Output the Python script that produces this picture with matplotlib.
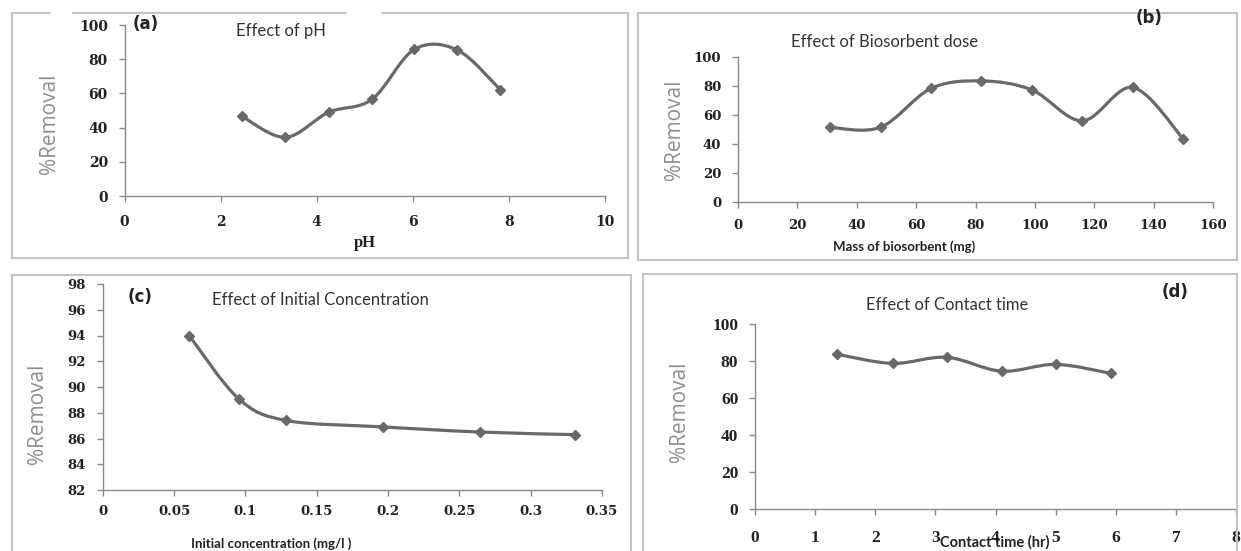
import matplotlib
matplotlib.use("Agg")
import matplotlib.pyplot as plt
from matplotlib.path import Path
from matplotlib.patches import PathPatch
import numpy as np

W, H = 1241, 551

# (a) effect of pH
ph = [2.45, 3.35, 4.25, 5.15, 6.03, 6.93, 7.82]
ph_removal = [46.5, 34.3, 49.0, 56.5, 85.7, 85.3, 62.2]

# (b) biosorbent dose
dose = [31, 48, 65, 82, 99, 116, 133, 150]
dose_removal = [51.5, 51.5, 78.3, 83.5, 77.3, 56.0, 79.0, 43.5]

# (c) initial concentration
conc = [0.0606, 0.0952, 0.1286, 0.1965, 0.2647, 0.3313]
conc_removal = [94.0, 89.1, 87.4, 86.9, 86.5, 86.3]

# (d) contact time
time_hr = [1.37, 2.29, 3.19, 4.10, 5.00, 5.92]
time_removal = [83.6, 78.7, 82.0, 74.5, 78.2, 73.3]

LINE = "#696969"
SPINE = "#8a8a8a"
FRAME = "#c4c4c4"


def px_axes(fig, x0, x1, ytop, ybot):
    return fig.add_axes([x0 / W, 1 - ybot / H, (x1 - x0) / W, (ybot - ytop) / H])


def smooth_line(ax, x, y):
    # Excel style smoothed line: Catmull-Rom segments drawn as cubic beziers
    p = np.column_stack([x, y]).astype(float)
    verts = [p[0]]
    codes = [Path.MOVETO]
    n = len(p)
    for i in range(n - 1):
        p0 = p[i - 1] if i > 0 else p[i]
        p3 = p[i + 2] if i + 2 < n else p[i + 1]
        c1 = p[i] + (p[i + 1] - p0) / 6
        c2 = p[i + 1] - (p3 - p[i]) / 6
        verts += [c1, c2, p[i + 1]]
        codes += [Path.CURVE4] * 3
    ax.add_patch(PathPatch(Path(verts, codes), fill=False, ec=LINE, lw=2.3,
                           capstyle="round", zorder=2))
    ax.plot(x, y, ls="none", marker="D", ms=5.5, color=LINE, zorder=3)


def style(ax, tickfont, tsize, xpad, ypad):
    for s in ["top", "right"]:
        ax.spines[s].set_visible(False)
    for s in ["left", "bottom"]:
        ax.spines[s].set_color(SPINE)
        ax.spines[s].set_linewidth(1.0)
    ax.tick_params(axis="both", direction="out", length=4, width=1, color=SPINE)
    ax.tick_params(axis="x", pad=xpad)
    ax.tick_params(axis="y", pad=ypad)
    for lab in ax.get_xticklabels() + ax.get_yticklabels():
        lab.set_fontfamily(tickfont)
        lab.set_fontweight("bold")
        lab.set_fontsize(tsize)
        lab.set_color("#222222")
    ax.set_facecolor("none")


def removal_label(fig, x, y):
    fig.text(x / W, 1 - y / H, "%Removal", rotation=90, ha="center", va="center",
             fontsize=15, color="#8f8f8f", family="Open Sans")


def title(fig, x, y, s):
    fig.text(x / W, 1 - y / H, s, ha="center", va="center",
             fontsize=12, family="Lato", color="#333333")


def tag(fig, x, y, s):
    fig.text(x / W, 1 - y / H, s, ha="center", va="center",
             fontsize=12, fontweight="bold", color="#222222")


def xlab(fig, x, y, s, size, family="Lato"):
    fig.text(x / W, 1 - y / H, s, ha="center", va="center",
             fontsize=size, fontweight="bold", family=family, color="#222222")


fig = plt.figure(figsize=(W / 100, H / 100), dpi=100)


# panel frames
def frame(x0, x1, y0, y1, gaps=()):
    kw = dict(color=FRAME, lw=1.5, transform=fig.transFigure)
    fx = lambda v: v / W
    fy = lambda v: 1 - v / H
    fig.lines.append(plt.Line2D([fx(x0), fx(x0)], [fy(y0), fy(y1)], **kw))
    fig.lines.append(plt.Line2D([fx(x1), fx(x1)], [fy(y0), fy(y1)], **kw))
    if y1 < H:
        fig.lines.append(plt.Line2D([fx(x0), fx(x1)], [fy(y1), fy(y1)], **kw))
    xs = [x0]
    for g0, g1 in gaps:
        xs += [g0, g1]
    xs.append(x1)
    for a, b in zip(xs[::2], xs[1::2]):
        fig.lines.append(plt.Line2D([fx(a), fx(b)], [fy(y0), fy(y0)], **kw))


frame(12, 628, 13, 258, gaps=[(50, 73), (346, 382)])
frame(638, 1237, 13, 260)
frame(12, 631, 275, 560)
frame(643, 1237, 274, 560)

# (a)
ax = px_axes(fig, 124.5, 605, 25, 196)
smooth_line(ax, ph, ph_removal)
ax.set_xlim(0, 10)
ax.set_ylim(0, 100)
ax.set_xticks(range(0, 11, 2))
ax.set_yticks(range(0, 101, 20))
style(ax, "DejaVu Serif", 10, 10, 8)
title(fig, 281, 31, "Effect of pH")
tag(fig, 146, 24, "(a)")
xlab(fig, 365, 243, "pH", 12, family="Liberation Serif")
removal_label(fig, 49, 124)

# (b)
ax = px_axes(fig, 738, 1213, 57, 202)
smooth_line(ax, dose, dose_removal)
ax.set_xlim(0, 160)
ax.set_ylim(0, 100)
ax.set_xticks(range(0, 161, 20))
ax.set_yticks(range(0, 101, 20))
style(ax, "DejaVu Serif", 9.5, 8, 8)
title(fig, 885, 42, "Effect of Biosorbent dose")
tag(fig, 1149, 18, "(b)")
xlab(fig, 904, 247, "Mass of biosorbent (mg)", 9.5)
removal_label(fig, 675, 130)

# (c)
ax = px_axes(fig, 102.7, 602, 284, 490)
smooth_line(ax, conc, conc_removal)
ax.set_xlim(0, 0.35)
ax.set_ylim(82, 98)
ax.set_xticks(np.arange(0, 0.36, 0.05))
ax.set_xticklabels(["0", "0.05", "0.1", "0.15", "0.2", "0.25", "0.3", "0.35"])
ax.set_yticks(range(82, 99, 2))
style(ax, "DejaVu Serif", 9.5, 7, 8)
title(fig, 320, 300, "Effect of Initial Concentration")
tag(fig, 140, 297, "(c)")
xlab(fig, 271, 544, "Initial concentration (mg/l )", 9.5)
removal_label(fig, 38, 414)

# (d)
ax = px_axes(fig, 755, 1236, 324, 509)
smooth_line(ax, time_hr, time_removal)
ax.set_xlim(0, 8)
ax.set_ylim(0, 100)
ax.set_xticks(range(0, 9))
ax.set_yticks(range(0, 101, 20))
style(ax, "Liberation Serif", 12.5, 11, 8)
title(fig, 947, 305, "Effect of Contact time")
tag(fig, 1175, 292, "(d)")
xlab(fig, 995, 542, "Contact time (hr)", 10.5)
removal_label(fig, 679, 412)

fig.savefig("out.png", dpi=100, facecolor="white")
